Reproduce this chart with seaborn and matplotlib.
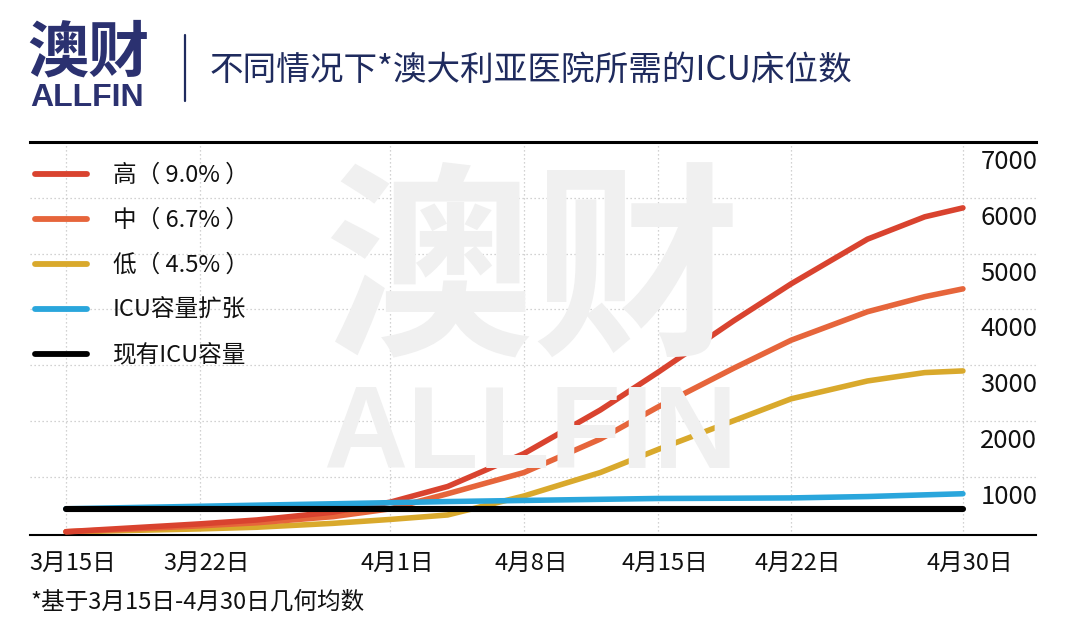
import numpy as np
import pandas as pd
import matplotlib
matplotlib.use("Agg")
import matplotlib.pyplot as plt
import matplotlib.transforms as mtransforms
from matplotlib.lines import Line2D
import seaborn as sns

# ---------------- data ----------------
days = [0, 3, 7, 10, 14, 17, 20, 24, 28, 31, 35, 38, 42, 45, 47]
high = [20, 80, 160, 230, 370, 550, 830, 1420, 2200, 2870, 3800, 4460, 5260, 5660, 5820]
mid = [20, 60, 125, 180, 290, 430, 700, 1080, 1680, 2250, 2950, 3450, 3960, 4230, 4370]
low = [15, 40, 70, 100, 170, 240, 320, 660, 1080, 1490, 2010, 2400, 2720, 2870, 2900]
expand = [430, 450, 475, 495, 520, 540, 560, 580, 600, 615, 620, 625, 650, 680, 700]
current = [430, 430, 430, 430, 430, 430, 430, 430, 430, 430, 430, 430, 430, 430, 430]

series_names = ["高（ 9.0% ）", "中（ 6.7% ）", "低（ 4.5% ）", "ICU容量扩张", "现有ICU容量"]
series_colors = ["#d9432f", "#e6653b", "#d9a92c", "#2aa6dc", "#000000"]

tick_days = [0, 7, 17, 24, 31, 38, 47]
tick_labels = ["3月15日", "3月22日", "4月1日", "4月8日", "4月15日", "4月22日", "4月30日"]
y_ticks = [1000, 2000, 3000, 4000, 5000, 6000, 7000]
y_tick_labels = ["1000", "2000", "3000", "4000", "5000", "6000", "7000"]

title = "不同情况下*澳大利亚医院所需的ICU床位数"
footnote = "*基于3月15日-4月30日几何均数"

frames = []
for name, vals in zip(series_names, [high, mid, low, expand, current]):
    frames.append(pd.DataFrame({"day": days, "beds": vals, "series": name}))
df = pd.concat(frames, ignore_index=True)

# ---------------- style ----------------
sns.set_style("white")
plt.rcParams["font.family"] = ["Noto Sans CJK SC", "DejaVu Sans"]
plt.rcParams["font.weight"] = "medium"

NAVY = "#1f2b5e"
LATIN_BOLD = ["Liberation Sans", "DejaVu Sans"]
fig = plt.figure(figsize=(10.67, 6.30), dpi=100)
ax = fig.add_axes([30 / 1067, 1 - 535 / 630, (1036 - 30) / 1067, (535 - 142) / 630])
ax.patch.set_alpha(0)

# watermark
fig.text(0.499, 1 - 277 / 630, "澳财", fontsize=150, fontweight="bold",
         color="#f0f0f0", ha="center", va="center", zorder=0)
fig.text(0.497, 1 - 438 / 630, "ALLFIN", fontsize=84, fontweight="bold",
         color="#f0f0f0", ha="center", va="center", zorder=0,
         family=LATIN_BOLD)

sns.lineplot(data=df, x="day", y="beds", hue="series", hue_order=series_names,
             palette=series_colors, estimator=None, sort=False, ax=ax,
             linewidth=4.0)

zorders = [4, 3, 2, 5, 6]
for line, z, name in zip(ax.lines, zorders, series_names):
    line.set_zorder(z)
    line.set_solid_capstyle("round")
    line.set_solid_joinstyle("round")
    if name == "现有ICU容量":
        line.set_linewidth(4.4)

ax.set_xlim(-1.886, 50.83)
ax.set_ylim(-39, 7000)

ax.set_xticks(tick_days)
ax.set_xticklabels(tick_labels)
ax.set_yticks(y_ticks)
ax.set_yticklabels(y_tick_labels)
ax.yaxis.tick_right()
ax.set_xlabel("")
ax.set_ylabel("")

ax.tick_params(axis="x", length=0, pad=12, labelsize=17, colors="#111111")
ax.tick_params(axis="y", length=0, pad=1, labelsize=18.5, colors="#111111")
for lab in ax.get_yticklabels():
    lab.set_ha("right")

offset_y = mtransforms.ScaledTranslation(0, -17 / 100, fig.dpi_scale_trans)
for tick in ax.yaxis.get_major_ticks():
    tick.label2.set_transform(tick.label2.get_transform() + offset_y)
offset_x = mtransforms.ScaledTranslation(7 / 100, 0, fig.dpi_scale_trans)
for tick in ax.xaxis.get_major_ticks():
    tick.label1.set_transform(tick.label1.get_transform() + offset_x)

ax.grid(True, color="#c4c4c4", linestyle=(0, (1, 2.2)), linewidth=0.9)
ax.set_axisbelow(True)

for s in ["left", "right"]:
    ax.spines[s].set_visible(False)
ax.spines["top"].set_linewidth(2.2)
ax.spines["top"].set_color("#000000")
ax.spines["bottom"].set_linewidth(1.5)
ax.spines["bottom"].set_color("#000000")

handles, labels = ax.get_legend_handles_labels()
leg = ax.legend(handles, labels, loc="upper left", bbox_to_anchor=(0.005, 0.944),
                frameon=False, fontsize=17, handlelength=2.2, handletextpad=1.1,
                labelspacing=0.93, borderpad=0, borderaxespad=0)
for h in leg.legend_handles:
    h.set_linewidth(4.2)
    h.set_solid_capstyle("round")
for t in leg.get_texts():
    t.set_color("#111111")

# header
fig.text(210 / 1067, 1 - 70 / 630, title, fontsize=24.2, color=NAVY,
         ha="left", va="center")
fig.add_artist(Line2D([185 / 1067, 185 / 1067], [1 - 35 / 630, 1 - 101 / 630],
                      color=NAVY, linewidth=1.6))
fig.text(88 / 1067, 1 - 54 / 630, "澳财", fontsize=44, fontweight="bold",
         color="#2b3170", ha="center", va="center")
fig.text(87 / 1067, 1 - 98 / 630, "ALLFIN", fontsize=23, fontweight="bold",
         color="#2b3170", ha="center", va="center", family=LATIN_BOLD)

fig.text(30 / 1067, 1 - 602 / 630, footnote, fontsize=17, color="#111111",
         ha="left", va="center")

fig.savefig("out.png", dpi=100)
